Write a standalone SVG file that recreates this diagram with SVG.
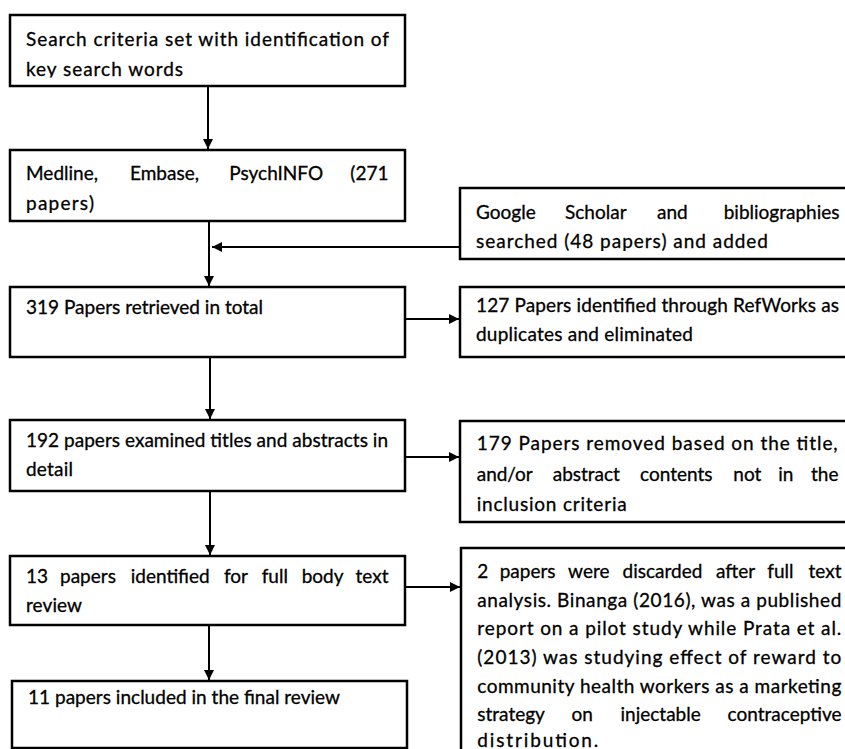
<svg xmlns="http://www.w3.org/2000/svg" width="845" height="749" viewBox="0 0 845 749">
<style>
  .box { fill: #ffffff; stroke: #000000; stroke-width: 2.5; }
  .t { font-family: Lato, "Liberation Sans", sans-serif; font-size: 19px; fill: #000000; stroke: #000000; stroke-width: 0.3; }
  .e { text-anchor: end; }
  .ln { stroke: #000000; stroke-width: 2; fill: none; }
</style>
<defs>
  <marker id="ah" markerUnits="userSpaceOnUse" markerWidth="11" markerHeight="10" refX="10" refY="5" orient="auto">
    <path d="M0,0 L10,5 L0,10 Z" fill="#000000"/>
  </marker>
  <clipPath id="c1"><rect x="10" y="15" width="395" height="62.5"/></clipPath>
  <clipPath id="c2"><rect x="10" y="150" width="395" height="63"/></clipPath>
  <clipPath id="c3"><rect x="460" y="188" width="400" height="63"/></clipPath>
</defs>
<rect width="845" height="749" fill="#ffffff"/>

<g id="connectors">
  <line class="ln" x1="208" y1="86" x2="208" y2="149" marker-end="url(#ah)"/>
  <line class="ln" x1="209" y1="221" x2="209" y2="286" marker-end="url(#ah)"/>
  <line class="ln" x1="460" y1="247" x2="212" y2="247" marker-end="url(#ah)"/>
  <line class="ln" x1="405" y1="319" x2="459" y2="319" marker-end="url(#ah)"/>
  <line class="ln" x1="210" y1="357" x2="210" y2="419" marker-end="url(#ah)"/>
  <line class="ln" x1="405" y1="457" x2="459" y2="457" marker-end="url(#ah)"/>
  <line class="ln" x1="210" y1="491" x2="210" y2="555" marker-end="url(#ah)"/>
  <line class="ln" x1="405" y1="587" x2="460" y2="587" marker-end="url(#ah)"/>
  <line class="ln" x1="209" y1="625" x2="209" y2="680" marker-end="url(#ah)"/>
</g>

<g id="n-search">
  <rect class="box" x="10" y="15" width="395" height="71"/>
  <g clip-path="url(#c1)">
    <text class="t" x="26" y="46" textLength="363" lengthAdjust="spacing">Search criteria set with identification of</text>
    <text class="t" x="26" y="76" textLength="157" lengthAdjust="spacing">key search words</text>
  </g>
</g>

<g id="n-medline">
  <rect class="box" x="10" y="150" width="395" height="71"/>
  <g clip-path="url(#c2)">
    <text class="t" y="180"><tspan x="26">Medline,</tspan><tspan x="130">Embase,</tspan><tspan x="229.3">PsychINFO</tspan><tspan class="e" x="388.5">(271</tspan></text>
    <text class="t" x="26" y="210" textLength="68" lengthAdjust="spacing">papers)</text>
  </g>
</g>

<g id="n-google">
  <rect class="box" x="460" y="188" width="400" height="71"/>
  <g clip-path="url(#c3)">
    <text class="t" y="219"><tspan x="476">Google</tspan><tspan x="565">Scholar</tspan><tspan x="657">and</tspan><tspan class="e" x="839.5">bibliographies</tspan></text>
    <text class="t" x="476" y="248" textLength="292" lengthAdjust="spacing">searched (48 papers) and added</text>
  </g>
</g>

<g id="n-319">
  <rect class="box" x="10" y="287" width="395" height="70"/>
  <text class="t" x="26" y="314" textLength="237" lengthAdjust="spacing">319 Papers retrieved in total</text>
</g>

<g id="n-127">
  <rect class="box" x="460" y="287" width="400" height="70"/>
  <text class="t" x="476" y="312" textLength="363" lengthAdjust="spacing">127 Papers identified through RefWorks as</text>
  <text class="t" x="476" y="341" textLength="217" lengthAdjust="spacing">duplicates and eliminated</text>
</g>

<g id="n-192">
  <rect class="box" x="10" y="420" width="395" height="71"/>
  <text class="t" x="26" y="447" textLength="362" lengthAdjust="spacing">192 papers examined titles and abstracts in</text>
  <text class="t" x="26" y="476" textLength="47" lengthAdjust="spacing">detail</text>
</g>

<g id="n-179">
  <rect class="box" x="460" y="421" width="400" height="101"/>
  <text class="t" x="476.7" y="450" textLength="361" lengthAdjust="spacing">179 Papers removed based on the title,</text>
  <text class="t" y="480.5"><tspan x="476.7">and/or</tspan><tspan x="552.7">abstract</tspan><tspan x="640">contents</tspan><tspan x="733.3">not</tspan><tspan x="778.3">in</tspan><tspan class="e" x="838.5">the</tspan></text>
  <text class="t" x="476.7" y="511" textLength="150" lengthAdjust="spacing">inclusion criteria</text>
</g>

<g id="n-13">
  <rect class="box" x="10" y="556" width="395" height="69"/>
  <text class="t" y="583"><tspan x="26">13</tspan><tspan x="60">papers</tspan><tspan x="130.7">identified</tspan><tspan x="224">for</tspan><tspan x="261.7">full</tspan><tspan x="301.7">body</tspan><tspan class="e" x="388.5">text</tspan></text>
  <text class="t" x="26" y="611.5" textLength="56" lengthAdjust="spacing">review</text>
</g>

<g id="n-2">
  <rect class="box" x="461" y="548" width="400" height="220"/>
  <text class="t" y="578"><tspan x="477.3">2</tspan><tspan x="499.7">papers</tspan><tspan x="568.1">were</tspan><tspan x="622.5">discarded</tspan><tspan x="715.9">after</tspan><tspan x="767.3">full</tspan><tspan class="e" x="841.5">text</tspan></text>
  <text class="t" x="477.3" y="606.7" textLength="364" lengthAdjust="spacing">analysis. Binanga (2016), was a published</text>
  <text class="t" x="477.3" y="635.3" textLength="364" lengthAdjust="spacing">report on a pilot study while Prata et al.</text>
  <text class="t" x="477.3" y="664" textLength="364" lengthAdjust="spacing">(2013) was studying effect of reward to</text>
  <text class="t" x="477.3" y="692.7" textLength="364" lengthAdjust="spacing">community health workers as a marketing</text>
  <text class="t" y="721.3"><tspan x="477.3">strategy</tspan><tspan x="571.4">on</tspan><tspan x="620.5">injectable</tspan><tspan class="e" x="841.5">contraceptive</tspan></text>
  <text class="t" x="477.3" y="747" textLength="121" lengthAdjust="spacing">distribution.</text>
</g>

<g id="n-11">
  <rect class="box" x="12" y="681" width="395" height="67"/>
  <text class="t" x="28" y="704" textLength="312" lengthAdjust="spacing">11 papers included in the final review</text>
</g>
</svg>
